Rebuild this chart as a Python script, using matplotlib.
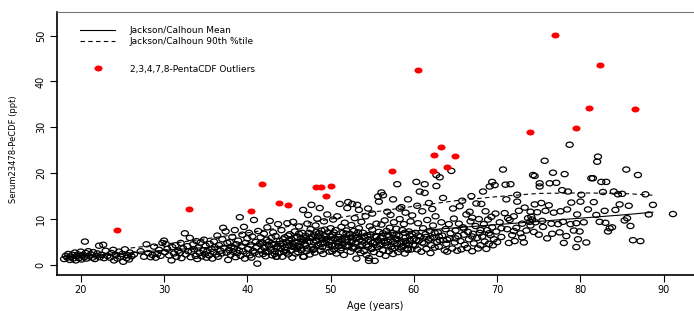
import numpy as np
import matplotlib.pyplot as plt
from matplotlib.path import Path
from matplotlib.transforms import Affine2D
from matplotlib.lines import Line2D

plt.rcParams['font.family'] = ['DejaVu Sans']

# serum points, grouped by age band: (age, ppt)
band_18_30 = [
    (18.0, 1.3), (18.2, 2.0), (18.4, 1.6), (18.5, 2.4), (18.7, 1.1), (18.8, 1.8), (19.0, 2.2),
    (19.1, 1.4), (19.3, 2.7), (19.4, 1.0), (19.5, 1.9), (19.7, 2.3), (19.8, 1.5), (20.0, 2.9),
    (20.1, 1.2), (20.2, 2.1), (20.4, 1.7), (20.5, 5.1), (20.6, 2.6), (20.7, 1.4), (20.9, 3.0),
    (21.0, 1.9), (21.2, 2.3), (21.4, 1.6), (21.5, 2.8), (21.7, 1.3), (21.9, 2.0), (22.0, 2.5),
    (22.2, 4.2), (22.3, 1.7), (22.5, 2.2), (22.7, 4.4), (22.8, 1.5), (23.0, 3.1), (23.2, 2.0),
    (23.5, 1.6), (23.7, 2.6), (23.9, 3.3), (24.0, 1.0), (24.2, 2.2), (24.4, 1.4), (24.6, 2.9),
    (24.8, 1.8), (25.0, 2.4), (25.1, 0.7), (25.3, 3.4), (25.5, 1.5), (25.6, 2.1), (25.8, 1.2),
    (25.9, 2.7), (26.1, 1.9), (26.4, 2.3), (27.2, 3.0), (27.6, 1.8), (27.9, 4.5), (28.1, 2.6),
    (28.4, 1.7), (28.6, 2.2), (28.8, 4.0), (29.0, 1.6), (29.2, 2.4), (29.4, 3.3), (29.6, 2.0),
    (29.8, 4.8), (30.0, 5.3),
]
band_30_38 = [
    (30.1, 2.8), (30.2, 4.6), (30.4, 3.5), (30.6, 2.1), (30.9, 1.0), (31.0, 3.9), (31.2, 2.5),
    (31.4, 4.3), (31.5, 1.8), (31.7, 3.1), (31.9, 2.6), (32.0, 4.8), (32.1, 1.5), (32.3, 3.6),
    (32.5, 6.9), (32.6, 2.3), (32.8, 4.1), (32.9, 3.0), (33.1, 5.9), (33.2, 1.7), (33.3, 2.9),
    (33.5, 4.5), (33.6, 3.4), (33.8, 2.0), (33.9, 5.2), (34.0, 1.3), (34.1, 3.8), (34.3, 2.6),
    (34.4, 4.9), (34.5, 1.9), (34.7, 3.2), (34.8, 5.5), (34.9, 2.4), (35.0, 4.2), (35.1, 1.6),
    (35.2, 3.0), (35.4, 2.1), (35.5, 4.6), (35.7, 3.5), (35.8, 1.4), (35.9, 2.8), (36.0, 5.1),
    (36.1, 3.9), (36.3, 2.3), (36.4, 6.4), (36.5, 1.8), (36.6, 4.3), (36.8, 3.1), (36.9, 2.5),
    (37.0, 5.6), (37.1, 8.1), (37.2, 3.7), (37.4, 7.3), (37.5, 2.7), (37.6, 4.8),
]
band_38_46 = [
    (37.7, 1.1), (37.8, 3.3), (37.9, 5.0), (38.0, 2.2), (38.1, 4.0), (38.2, 6.1), (38.3, 2.9),
    (38.4, 3.6), (38.5, 7.6), (38.6, 1.7), (38.7, 4.5), (38.8, 2.6), (38.9, 5.3), (39.0, 3.2),
    (39.1, 10.4), (39.2, 2.0), (39.3, 4.1), (39.4, 6.6), (39.5, 3.0), (39.6, 8.3), (39.7, 1.4),
    (39.8, 4.8), (39.9, 2.5), (40.0, 5.8), (40.1, 3.5), (40.2, 7.0), (40.3, 2.1), (40.4, 4.4),
    (40.5, 1.6), (40.6, 6.2), (40.7, 3.1), (40.8, 9.8), (40.9, 2.7), (41.0, 5.0), (41.1, 3.8),
    (41.2, 0.3), (41.3, 7.4), (41.4, 2.3), (41.5, 4.6), (41.6, 6.0), (41.7, 3.2), (41.8, 4.9),
    (41.9, 2.4), (42.0, 6.8), (42.1, 3.7), (42.2, 1.9), (42.3, 5.5), (42.4, 8.2), (42.5, 2.8),
    (42.6, 4.2), (42.7, 9.6), (42.8, 3.4), (42.9, 5.9), (43.0, 2.1), (43.1, 7.1), (43.2, 4.5),
    (43.3, 3.0), (43.4, 6.3), (43.5, 1.8), (43.6, 4.0), (43.7, 8.9), (43.8, 2.6), (43.9, 5.2),
    (44.0, 3.6), (44.1, 7.6), (44.2, 1.8), (44.3, 4.7), (44.4, 2.9), (44.5, 6.0), (44.6, 3.3),
    (44.7, 5.0), (44.8, 9.1), (44.9, 2.3), (45.0, 4.3), (45.1, 6.7), (45.2, 3.1), (45.3, 5.6),
    (45.4, 1.6), (45.5, 9.4), (45.6, 3.9), (45.7, 7.3), (45.8, 2.5), (45.9, 4.8), (46.0, 6.1),
    (42.0, 3.9), (42.6, 5.1), (43.0, 4.4), (43.5, 3.8), (44.0, 4.6), (44.5, 3.9), (45.0, 5.3),
    (45.5, 4.5), (46.0, 3.6), (42.2, 2.9), (43.3, 2.4), (44.7, 2.7), (45.8, 5.9), (44.3, 5.6),
    (44.9, 6.4), (45.4, 4.0), (46.0, 4.2),
]
band_46_52 = [
    (46.1, 2.8), (46.2, 8.4), (46.3, 4.1), (46.4, 5.7), (46.5, 3.3), (46.6, 7.0), (46.7, 12.0),
    (46.8, 1.8), (46.9, 4.6), (47.0, 6.4), (47.1, 3.0), (47.2, 9.0), (47.3, 10.9), (47.4, 5.1),
    (47.5, 2.3), (47.6, 7.8), (47.7, 13.1), (47.8, 4.0), (47.9, 6.0), (48.0, 3.5), (48.1, 2.7),
    (48.2, 8.6), (48.3, 5.3), (48.4, 10.1), (48.5, 4.4), (48.6, 6.9), (48.7, 12.4), (48.8, 3.1),
    (48.9, 7.5), (49.0, 5.6), (49.1, 2.4), (49.2, 9.5), (49.3, 4.8), (49.4, 6.3), (49.5, 3.8),
    (49.6, 11.0), (49.7, 7.1), (49.8, 5.0), (49.9, 2.9), (50.0, 8.0), (50.1, 4.3), (50.2, 6.6),
    (50.3, 9.9), (50.4, 3.4), (50.5, 5.8), (50.6, 7.6), (50.7, 2.5), (50.8, 10.6), (50.9, 4.7),
    (51.0, 6.1), (51.1, 13.3), (51.2, 3.2), (51.3, 8.3), (51.4, 5.4), (51.5, 7.0), (51.6, 2.2),
    (51.7, 9.2), (51.8, 4.1), (51.9, 6.8), (52.0, 12.4), (52.1, 13.7),
    (46.5, 5.0), (47.0, 4.3), (47.5, 5.9), (48.0, 4.9), (48.5, 6.2), (49.0, 3.9), (49.5, 5.6),
    (50.0, 6.3), (50.5, 4.2), (51.0, 5.1), (51.5, 4.6), (52.0, 5.5), (47.2, 3.6), (48.8, 4.6),
    (50.2, 3.0), (51.8, 6.0), (46.2, 6.8), (46.8, 5.4), (47.4, 7.0), (47.9, 3.3), (48.3, 7.2),
    (48.9, 5.9), (49.3, 7.7), (49.8, 4.4), (50.4, 7.1), (50.9, 5.6), (51.3, 3.7), (51.9, 7.5),
    (47.0, 5.8), (48.0, 6.6), (49.0, 4.9), (50.0, 5.3), (51.0, 4.1), (43.5, 1.8), (46.7, 1.8),
]
band_52_60 = [
    (52.6, 13.3), (53.2, 13.1), (53.4, 12.0), (54.5, 12.3), (55.0, 11.2), (55.7, 14.9),
    (55.8, 13.8), (56.1, 15.8), (56.3, 15.2), (56.8, 11.6), (57.2, 10.9), (57.5, 14.3),
    (58.0, 17.6), (58.3, 12.3), (58.5, 12.6), (59.0, 11.4), (59.3, 14.3), (59.8, 10.8),
    (52.2, 4.2), (52.3, 6.8), (52.4, 2.9), (52.5, 8.7), (52.6, 5.3), (52.7, 3.6), (52.8, 7.4),
    (52.9, 10.2), (53.0, 4.7), (53.1, 1.4), (53.2, 6.1), (53.3, 3.3), (53.4, 8.0), (53.5, 5.6),
    (53.6, 2.6), (53.7, 9.4), (53.8, 4.4), (53.9, 7.0), (54.0, 3.0), (54.1, 5.9), (54.2, 10.6),
    (54.3, 2.2), (54.4, 6.5), (54.5, 4.0), (54.6, 1.5), (54.7, 8.4), (54.8, 5.1), (54.9, 3.5),
    (55.0, 7.7), (55.1, 4.9), (55.2, 2.8), (55.3, 0.9), (55.4, 6.3), (55.5, 9.0), (55.6, 3.9),
    (55.7, 5.4), (55.8, 7.2), (55.9, 2.4), (56.0, 4.5), (56.1, 8.8), (56.2, 6.0), (56.3, 3.2),
    (56.4, 5.2), (56.5, 9.7), (56.6, 2.0), (56.7, 7.4), (56.8, 4.3), (56.9, 6.6), (57.0, 3.0),
    (57.1, 8.1), (57.2, 5.5), (57.3, 4.0), (57.4, 6.9), (57.5, 2.4), (57.6, 9.3), (57.7, 3.7),
    (57.8, 5.8), (57.9, 7.9), (58.0, 4.6), (58.1, 2.8), (58.2, 6.3), (58.3, 10.0), (58.4, 3.4),
    (58.5, 5.0), (58.6, 7.6), (58.7, 4.1), (58.8, 8.9), (58.9, 2.5), (59.0, 6.0), (59.1, 4.8),
    (59.2, 3.6), (59.3, 3.3), (59.4, 7.3), (59.5, 5.3), (59.6, 9.5), (59.7, 3.4), (59.8, 6.7),
    (59.9, 4.4), (52.5, 5.0), (53.0, 5.8), (53.5, 4.1), (54.0, 6.2), (54.5, 5.5), (55.0, 3.6),
    (55.5, 6.1), (56.0, 5.9), (56.5, 4.8), (57.0, 6.2), (57.5, 5.1), (58.0, 5.6), (58.5, 3.9),
    (59.0, 5.2), (59.5, 6.4), (52.4, 6.0), (52.9, 3.9), (53.3, 7.1), (53.8, 5.1), (54.3, 4.4),
    (54.8, 6.6), (55.3, 5.0), (55.9, 4.2), (56.3, 6.9), (56.9, 5.0), (57.4, 3.5), (57.9, 6.5),
    (58.4, 4.7), (58.9, 7.0), (59.4, 4.5), (52.0, 4.0), (53.0, 6.6), (54.6, 0.9),
]
band_60_70 = [
    (60.3, 18.1), (60.7, 16.0), (61.3, 17.6), (61.3, 15.7), (62.7, 17.2), (62.7, 19.6),
    (63.1, 19.1), (64.5, 20.5), (65.5, 12.8), (64.7, 12.3), (66.7, 11.6), (66.9, 15.0),
    (67.5, 13.4), (68.1, 13.3), (68.3, 16.0), (69.1, 17.1), (69.4, 18.1), (69.7, 17.4),
    (69.3, 10.5), (61.8, 13.5), (62.2, 12.2), (63.5, 14.6), (60.4, 12.9), (61.0, 11.7),
    (65.8, 14.0), (67.0, 10.3), (68.6, 11.7),
    (60.0, 5.7), (60.1, 4.2), (60.2, 7.0), (60.3, 5.4), (60.4, 3.4), (60.5, 9.1), (60.6, 5.3),
    (60.8, 6.2), (60.9, 2.9), (61.1, 8.0), (61.2, 4.7), (61.4, 6.7), (61.5, 3.5), (61.6, 9.8),
    (61.8, 5.5), (61.9, 7.4), (62.0, 2.6), (62.1, 4.3), (62.3, 8.6), (62.4, 6.0), (62.5, 3.8),
    (62.6, 10.6), (62.8, 5.0), (62.9, 7.1), (63.0, 4.0), (63.1, 5.4), (63.3, 9.3), (63.4, 6.4),
    (63.5, 5.4), (63.7, 3.2), (63.8, 7.8), (63.9, 4.6), (64.0, 2.9), (64.2, 8.9), (64.3, 5.8),
    (64.4, 6.9), (64.6, 3.6), (64.8, 10.1), (64.9, 4.9), (65.0, 7.5), (65.2, 3.1), (65.3, 6.3),
    (65.4, 9.0), (65.6, 5.2), (65.7, 3.4), (65.9, 8.2), (66.0, 6.6), (66.1, 4.4), (66.3, 11.0),
    (66.4, 3.7), (66.5, 7.2), (66.6, 5.6), (66.8, 9.5), (67.0, 3.0), (67.1, 6.8), (67.2, 4.7),
    (67.4, 8.5), (67.6, 5.9), (67.7, 3.6), (67.8, 10.0), (67.9, 7.0), (68.0, 4.3), (68.2, 6.2),
    (68.4, 8.9), (68.5, 5.1), (68.7, 3.5), (68.8, 7.6), (68.9, 9.9), (69.0, 4.6), (69.2, 6.5),
    (69.4, 8.2), (69.5, 4.3), (69.6, 5.6), (69.8, 11.2), (69.9, 7.3), (70.0, 5.0),
    (60.5, 6.4), (61.0, 4.9), (61.5, 6.1), (62.0, 5.8), (62.5, 7.0), (63.0, 6.2), (64.0, 5.5),
    (65.0, 5.8), (66.0, 7.9), (67.0, 6.2), (68.0, 7.6), (69.0, 6.9),
]
band_70_80 = [
    (70.3, 9.3), (70.5, 6.1), (70.7, 20.8), (70.9, 11.3), (71.0, 17.5), (71.1, 14.3),
    (71.2, 7.8), (71.4, 4.8), (71.5, 9.8), (71.6, 17.6), (71.8, 6.5), (72.0, 10.6),
    (72.1, 5.2), (72.3, 8.1), (72.4, 15.3), (72.4, 13.8), (72.6, 11.8), (72.8, 6.9),
    (73.0, 9.0), (73.2, 4.9), (73.3, 12.5), (73.5, 7.5), (73.7, 10.2), (73.9, 9.4),
    (74.0, 8.6), (74.1, 10.5), (74.2, 9.9), (74.3, 19.6), (74.4, 7.2), (74.5, 19.4),
    (74.5, 13.2), (74.6, 9.3), (74.8, 11.5), (75.0, 6.6), (75.1, 17.8), (75.1, 17.1),
    (75.3, 13.5), (75.5, 8.3), (75.7, 22.7), (75.8, 11.8), (76.0, 5.8), (76.2, 13.0),
    (76.3, 17.8), (76.5, 9.0), (76.7, 20.1), (76.8, 11.4), (77.1, 17.9), (77.3, 8.9),
    (77.5, 7.1), (77.6, 11.7), (77.8, 16.3), (78.0, 4.8), (78.1, 19.8), (78.3, 6.3),
    (78.5, 16.0), (78.7, 26.2), (78.8, 8.9), (78.9, 13.6), (79.2, 7.5), (79.5, 3.9),
    (79.5, 9.1), (79.6, 11.0), (79.7, 5.6), (79.9, 7.3), (80.0, 13.8), (80.1, 15.3),
    (70.5, 8.0), (71.3, 10.2), (72.0, 7.4), (73.0, 6.0), (74.0, 11.6), (75.4, 9.6),
    (76.6, 6.8), (77.9, 9.4), (78.4, 12.1),
]
band_80_92 = [
    (80.4, 9.3), (80.7, 4.9), (80.9, 12.1), (81.3, 18.9), (81.5, 18.9), (81.6, 13.7),
    (81.9, 10.9), (82.0, 22.5), (82.1, 23.6), (82.3, 9.4), (82.5, 18.1), (82.7, 15.9),
    (82.9, 11.8), (83.0, 9.2), (83.1, 18.1), (83.3, 7.3), (83.5, 8.0), (83.8, 8.2),
    (84.0, 16.0), (84.2, 12.0), (84.5, 15.4), (84.7, 13.2), (85.0, 15.5), (85.3, 9.7),
    (85.5, 20.8), (85.6, 10.2), (85.8, 12.9), (86.0, 8.5), (86.3, 5.4), (86.9, 19.6),
    (87.2, 5.2), (87.8, 15.4), (88.2, 11.0), (88.7, 13.1), (91.1, 11.1),
]

# 2,3,4,7,8-PentaCDF outliers
outlier_age = [24.4, 33.0, 40.4, 41.8, 43.8, 44.9, 48.3, 48.8, 49.5, 50.0, 57.4, 60.5,
               62.3, 62.4, 63.3, 64.0, 64.9, 73.9, 76.9, 79.5, 81.0, 82.3, 86.5]
outlier_ppt = [7.7, 12.3, 11.8, 17.7, 13.4, 13.1, 16.9, 16.9, 15.0, 17.3, 20.5, 42.5,
               20.4, 24.0, 25.7, 21.3, 23.7, 29.0, 50.1, 29.8, 34.1, 43.6, 34.0]

# Jackson/Calhoun reference curves
mean_age = [19, 25, 30, 35, 40, 45, 50, 55, 60, 65, 70, 75, 80, 85, 88.7]
mean_ppt = [1.9, 2.5, 3.2, 3.8, 4.5, 5.3, 6.0, 6.7, 7.4, 8.1, 8.8, 9.5, 10.2, 10.9, 11.5]
p90_age = [26, 30, 35, 40, 45, 50, 55, 60, 65, 70, 75, 80, 85, 88.7]
p90_ppt = [3.7, 4.5, 5.7, 7.0, 8.4, 10.0, 11.5, 12.8, 14.0, 14.9, 15.6, 15.7, 15.6, 15.2]

bands = [band_18_30, band_30_38, band_38_46, band_46_52, band_52_60,
         band_60_70, band_70_80, band_80_92]
pts = np.array([p for b in bands for p in b])

# R circles come out slightly squashed in the picture
ellipse = Path.unit_circle().transformed(Affine2D().scale(1.0, 0.74))

fig = plt.figure(figsize=(6.94, 3.11), dpi=100)
ax = fig.add_axes([0.0821, 0.1158, 0.9179, 0.8456])

ax.scatter(pts[:, 0], pts[:, 1], s=26, marker=ellipse, facecolors='none',
           edgecolors='black', linewidths=0.9, zorder=2)
ax.scatter(outlier_age, outlier_ppt, s=34, marker=ellipse, color='red',
           linewidths=0, zorder=3)
ax.plot(mean_age, mean_ppt, color='black', lw=0.8, zorder=4)
ax.plot(p90_age, p90_ppt, color='black', lw=0.8, ls=(0, (4, 3)), zorder=4)

ax.set_xlim(17.15, 93.63)
ax.set_ylim(-2.18, 55.12)
ax.set_xticks(range(20, 91, 10))
ax.set_yticks(range(0, 51, 10))
ax.tick_params(direction='out', length=5, width=0.8, labelsize=7)
ax.tick_params(axis='x', pad=2)
ax.tick_params(axis='y', pad=3)
for lab in ax.get_yticklabels():
    lab.set_rotation(90)
    lab.set_va('center')

ax.spines['right'].set_visible(False)
ax.spines['top'].set_color('#777777')
ax.spines['top'].set_linewidth(0.8)
ax.spines['left'].set_linewidth(1.2)
ax.spines['bottom'].set_linewidth(1.2)

ax.set_xlabel('Age (years)', fontsize=7)
ax.xaxis.set_label_coords(0.5, -0.118)
ax.xaxis.label.set_va('center')
ax.set_ylabel('Serum23478-PeCDF (ppt)', fontsize=6)
ax.yaxis.set_label_coords(-0.0675, 0.48)
ax.yaxis.label.set_va('center')

lines_leg = ax.legend(
    handles=[Line2D([], [], color='black', lw=0.8),
             Line2D([], [], color='black', lw=0.8, ls=(0, (4, 3)))],
    labels=['Jackson/Calhoun Mean', 'Jackson/Calhoun 90th %tile'],
    loc='upper left', bbox_to_anchor=(0.0361, 0.945), frameon=False,
    fontsize=6.5, borderpad=0, borderaxespad=0, handlelength=3.9,
    handletextpad=1.6, labelspacing=0.15)
ax.add_artist(lines_leg)
ax.legend(
    handles=[Line2D([], [], ls='none', marker=ellipse, color='red',
                    markersize=5.8, markeredgewidth=0)],
    labels=['2,3,4,7,8-PentaCDF Outliers'],
    loc='upper left', bbox_to_anchor=(0.0361, 0.800), frameon=False,
    fontsize=6.5, borderpad=0, borderaxespad=0, handlelength=3.9,
    handletextpad=1.6)

fig.savefig('out.png', dpi=100)
